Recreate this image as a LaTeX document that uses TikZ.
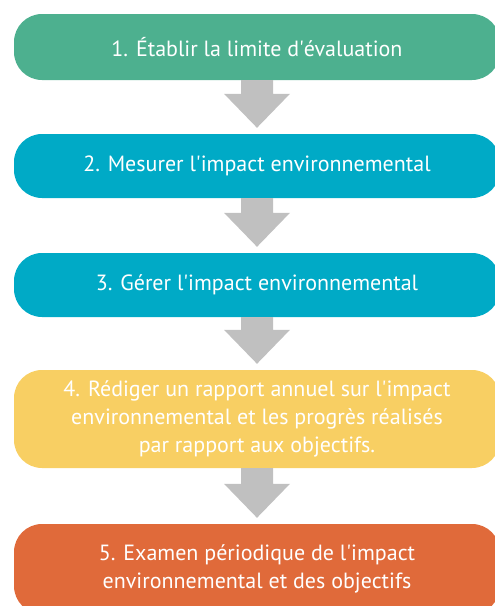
\documentclass[tikz,border=0pt]{standalone}
\usepackage{fontspec}
\setmainfont{PT Sans}
\usetikzlibrary{calc}
\definecolor{cgreen}{RGB}{77,176,143}
\definecolor{cblue}{RGB}{0,170,198}
\definecolor{cyellow}{RGB}{248,207,99}
\definecolor{corange}{RGB}{224,106,58}
\definecolor{cgray}{RGB}{192,192,192}
\newcommand{\ap}{\textquotesingle}
\tikzset{
  stepbox/.style={rectangle, rounded corners=28pt, minimum width=486pt, inner sep=0pt,
    text=white, align=center, font=\fontsize{22}{28}\selectfont},
}
\newcommand{\flowarrow}[2]{%
  \fill[cgray] ([xshift=-16pt]#1.south) -- ([xshift=-16pt,yshift=40pt]#2.north)
    -- ([xshift=-33pt,yshift=40pt]#2.north) -- ([yshift=6pt]#2.north)
    -- ([xshift=33pt,yshift=40pt]#2.north) -- ([xshift=16pt,yshift=40pt]#2.north)
    -- ([xshift=16pt]#1.south) -- cycle;}
\begin{document}
\begin{tikzpicture}[x=1pt,y=1pt]
\useasboundingbox (0,0) rectangle (495,-606);
\clip (0,0) rectangle (495,-606);
\node[stepbox, fill=cgreen, minimum height=66pt] (s1) at (257,-47) {1. Établir la limite d\ap évaluation};
\node[stepbox, fill=cblue, minimum height=64pt] (s2) at (257,-166) {2. Mesurer l\ap impact environnemental};
\node[stepbox, fill=cblue, minimum height=64pt] (s3) at (257,-285) {3. Gérer l\ap impact environnemental};
\node[stepbox, fill=cyellow, minimum height=98pt] (s4) at (257,-419) {4. Rédiger un rapport annuel sur l\ap impact\\environnemental et les progrès réalisés\\par rapport aux objectifs.};
\node[stepbox, fill=corange, minimum height=90pt] (s5) at (257,-569) {5. Examen périodique de l\ap impact\\environnemental et des objectifs};
\flowarrow{s1}{s2}
\flowarrow{s2}{s3}
\flowarrow{s3}{s4}
\flowarrow{s4}{s5}
\end{tikzpicture}
\end{document}
